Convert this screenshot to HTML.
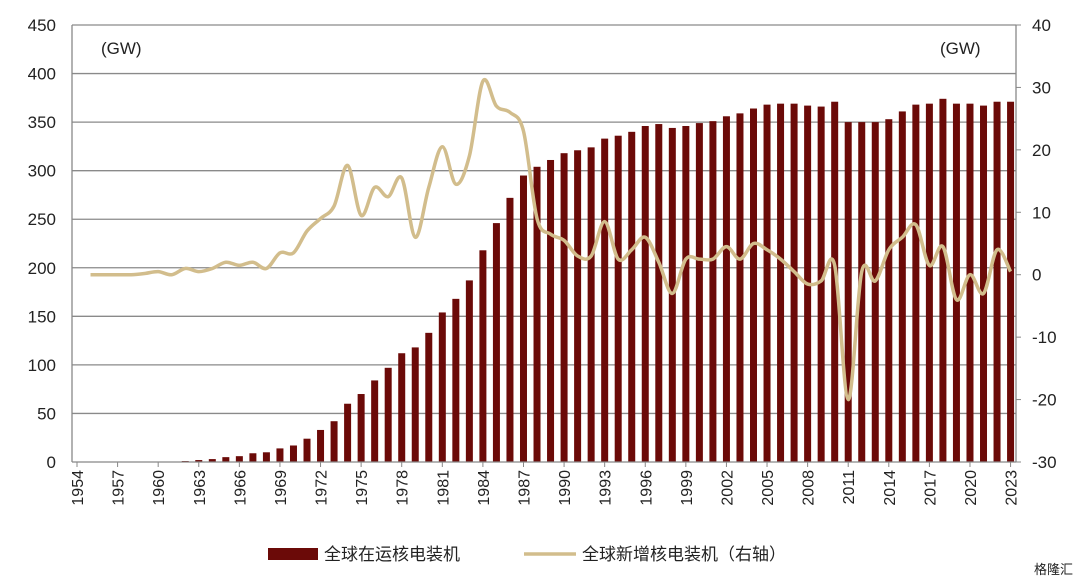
<!DOCTYPE html>
<html><head><meta charset="utf-8"><style>
body{margin:0;background:#fff;}
svg text{font-family:"Liberation Sans","Noto Sans CJK SC",sans-serif;fill:#222;}
</style></head><body>
<svg id="c" width="1080" height="582"></svg>
<script>
const barYears=[];for(let y=1962;y<=2023;y++)barYears.push(y);
const capacity=[1,2,3,5,6,9,10,14,17,24,33,42,60,70,84,97,112,118,133,154,168,187,218,246,272,295,304,311,318,321,324,333,336,340,346,348,344,346,349,351,356,359,364,368,369,369,367,366,371,350,350,350,353,361,368,369,374,369,369,367,371,371];
const lineYears=[];for(let y=1955;y<=2023;y++)lineYears.push(y);
const added=[0,0,0,0,0.2,0.5,0,1,0.5,1,2,1.5,2,1,3.5,3.5,7,9,11,17.5,9.5,14,12.5,15.5,6,14,20.5,14.5,19,31,27,26,23,9,6.5,5.5,3,3,8.5,2.5,4,6,2,-3,2.5,2.5,2.5,4.5,2.5,5,4,2.5,0.5,-1.5,-1,1.5,-20,0.5,-1,4,6,8,1.5,4.5,-4,0,-3,4,0.5];
const leftTicks=[0,50,100,150,200,250,300,350,400,450];
const rightTicks=[-30,-20,-10,0,10,20,30,40];
const xLabels=[];for(let y=1954;y<=2023;y+=3)xLabels.push(y);
const ns="http://www.w3.org/2000/svg",svg=document.getElementById('c');
const L=72,R=1016,T=25,B=462;
const xs=y=>77+(y-1954)*13.53;
const yl=v=>B-(v/450)*(B-T);
const yr=v=>B-((v+30)/70)*(B-T);
function el(t,a,txt){const e=document.createElementNS(ns,t);for(const k in a)e.setAttribute(k,a[k]);if(txt!==undefined)e.textContent=txt;svg.appendChild(e);return e;}
leftTicks.forEach(v=>{
 if(v>0){const g=el('line',{x1:L,x2:R,y1:yl(v),y2:yl(v),stroke:'#8a8a8a','stroke-width':1.3});
 }
 const t=el('text',{x:56,y:yl(v)+6,'text-anchor':'end','font-size':17},v);
 
});
rightTicks.forEach(v=>{
 const t=el('text',{x:1032,y:yr(v)+6,'font-size':17},v);
 
 const k=el('line',{x1:R,x2:R+5,y1:yr(v),y2:yr(v),stroke:'#888'});
 
});
barYears.forEach((y,i)=>{
 const r=el('rect',{x:xs(y)-3.5,y:yl(capacity[i]),width:7,height:B-yl(capacity[i]),fill:'#6b0a08'});
 
});
let a=el('line',{x1:L,x2:R,y1:B,y2:B,stroke:'#888','stroke-width':1.3});
a=el('line',{x1:L,x2:L,y1:T,y2:B,stroke:'#888','stroke-width':1.3});
a=el('line',{x1:R,x2:R,y1:T,y2:B,stroke:'#888','stroke-width':1.3});
xLabels.forEach(y=>{
 const x=xs(y);
 const k=el('line',{x1:x,x2:x,y1:B,y2:B+5,stroke:'#888'});
 const t=el('text',{x:0,y:0,'text-anchor':'end','font-size':16,transform:`translate(${x+6},${B+8}) rotate(-90)`},y);
 
});
const pts=lineYears.map((y,i)=>[xs(y),yr(added[i])]);
let d='M'+pts[0][0]+','+pts[0][1];
for(let i=0;i<pts.length-1;i++){const p0=pts[Math.max(0,i-1)],p1=pts[i],p2=pts[i+1],p3=pts[Math.min(pts.length-1,i+2)];
 d+=`C${p1[0]+(p2[0]-p0[0])/6},${p1[1]+(p2[1]-p0[1])/6} ${p2[0]-(p3[0]-p1[0])/6},${p2[1]-(p3[1]-p1[1])/6} ${p2[0]},${p2[1]}`;}
const ln=el('path',{d:d,fill:'none',stroke:'#d2bd8c','stroke-width':3.5,'stroke-linejoin':'round'});

let t=el('text',{x:101,y:54,'font-size':17},'(GW)');
t=el('text',{x:940,y:54,'font-size':17},'(GW)');
let r=el('rect',{x:268,y:548,width:50,height:12,fill:'#6b0a08'});
t=el('text',{x:324,y:560,'font-size':17},'全球在运核电装机');
r=el('line',{x1:524,x2:576,y1:554,y2:554,stroke:'#d2bd8c','stroke-width':3.5});
t=el('text',{x:582,y:560,'font-size':17},'全球新增核电装机（右轴）');
t=el('text',{x:1034,y:574,'font-size':13,fill:'#bbb'},'格隆汇');
</script>
</body></html>
